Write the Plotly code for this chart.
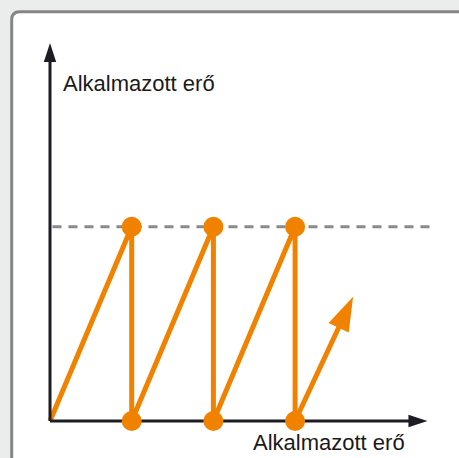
import plotly.graph_objects as go

# ---- data ----
saw_x = [0, 1, 1, 2, 2, 3, 3]
saw_y = [0, 1, 0, 1, 0, 1, 0]
dot_x = [1, 1, 2, 2, 3, 3]
dot_y = [1, 0, 1, 0, 1, 0]
arrow_x = [3, 3.71]
arrow_y = [0, 0.64]
threshold = 1
dash_x = [0.03, 4.66]
axis_x_end = 4.62
axis_y_end = 1.945
label_text = "Alkalmazott erő"

ORANGE = "#f08200"
BLACK = "#1c1c22"
FONT = "Liberation Sans, Arial, sans-serif"

W, H = 459, 458
fig = go.Figure()

# dashed threshold line
fig.add_trace(go.Scatter(x=dash_x, y=[threshold, threshold], mode="lines",
                         line=dict(color="#8a8a8a", width=3, dash="9px,7px"),
                         hoverinfo="skip"))
# sawtooth line
fig.add_trace(go.Scatter(x=saw_x, y=saw_y, mode="lines",
                         line=dict(color=ORANGE, width=5), hoverinfo="skip"))
# final arrow
fig.add_trace(go.Scatter(x=arrow_x, y=arrow_y, mode="lines+markers",
                         line=dict(color=ORANGE, width=5),
                         marker=dict(symbol="arrow", size=[0, 36], color=ORANGE, opacity=1,
                                     angleref="previous", line=dict(width=0)),
                         hoverinfo="skip"))
# axes
fig.add_trace(go.Scatter(x=[0, 0], y=[0, axis_y_end], mode="lines+markers",
                         line=dict(color=BLACK, width=3),
                         marker=dict(symbol="arrow", size=[0, 20], color=BLACK, opacity=1,
                                     angleref="previous", line=dict(width=0)),
                         hoverinfo="skip"))
fig.add_trace(go.Scatter(x=[0, axis_x_end], y=[0, 0], mode="lines+markers",
                         line=dict(color=BLACK, width=3),
                         marker=dict(symbol="arrow", size=[0, 20], color=BLACK, opacity=1,
                                     angleref="previous", line=dict(width=0)),
                         hoverinfo="skip"))
# dots
fig.add_trace(go.Scatter(x=dot_x, y=dot_y, mode="markers",
                         marker=dict(size=20, color=ORANGE, opacity=1, line=dict(width=0)),
                         hoverinfo="skip"))

# rounded white panel
bx = 11.7
r = 8
lx = bx / W
ty = 1 - bx / H
path = (f"M{lx},-0.1 L{lx},{1 - (bx + r) / H} Q{lx},{ty} {(bx + r) / W},{ty} "
        f"L1.1,{ty} L1.1,-0.1 Z")
fig.add_shape(type="path", xref="paper", yref="paper", path=path,
              fillcolor="white", line=dict(color="#858585", width=3), layer="below")

fig.add_annotation(xref="paper", yref="paper", x=61 / W, y=1 - 84 / H,
                   xanchor="left", yanchor="middle", text=label_text, showarrow=False,
                   font=dict(family=FONT, size=22, color="#1a1a1a"))
fig.add_annotation(xref="paper", yref="paper", x=251 / W, y=1 - 442 / H,
                   xanchor="left", yanchor="middle", text=label_text, showarrow=False,
                   font=dict(family=FONT, size=22, color="#1a1a1a"))

fig.update_layout(
    width=W, height=H, autosize=False,
    margin=dict(l=0, r=0, t=0, b=0),
    paper_bgcolor="#ebecec", plot_bgcolor="rgba(0,0,0,0)",
    showlegend=False,
    xaxis=dict(range=[-50 / 81.7, 409 / 81.7], visible=False, fixedrange=True),
    yaxis=dict(range=[-(458 - 421) / 194.3, 421 / 194.3], visible=False, fixedrange=True),
)

fig.write_html("out.html", config={"displayModeBar": False},
               post_script="document.body.style.margin='0';document.body.style.overflow='hidden';")
